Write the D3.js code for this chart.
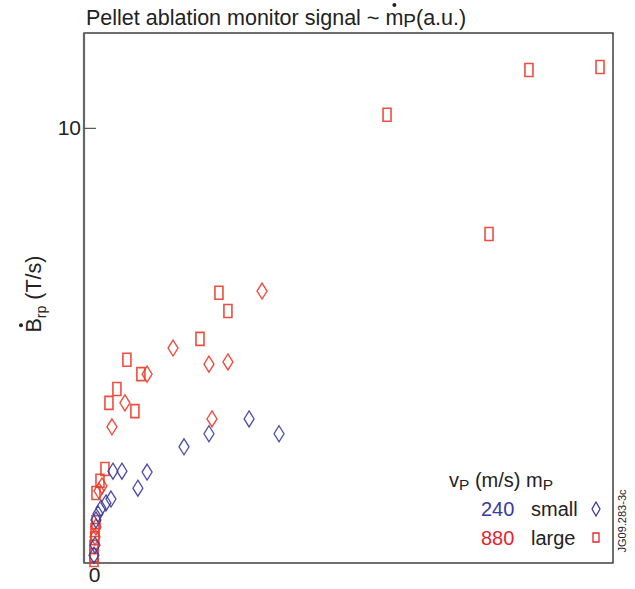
<!DOCTYPE html>
<html>
<head>
<meta charset="utf-8">
<script src="https://cdn.jsdelivr.net/npm/d3@7"></script>
<style>
  html, body { margin: 0; padding: 0; background: #fff; }
  svg { display: block; font-family: "Liberation Sans", Arial, Helvetica, sans-serif; }
</style>
</head>
<body>
<svg id="chart" width="635" height="589"></svg>
<script>
// Ablation signal (a.u.) and dB/dt (T/s) for each pellet group
const smallFastX = [7.77, 9.27, 5.76, 4.51, 2.66, 2.20, 1.40, 0.95, 0.85, 0.60, 0.35, 0.20, 0.10, 0.05, 0.00];
const smallFastY = [3.31, 2.97, 2.97, 2.67, 2.09, 1.72, 2.11, 2.11, 1.47, 1.38, 1.26, 1.13, 0.99, 0.41, 0.18];

const largeX = [14.68, 21.79, 25.35, 19.79, 6.26, 6.71, 5.31, 1.65, 2.35, 1.15, 0.75, 2.05, 0.55, 0.30, 0.10, 0.10, 0.05, 0.05, 0.00, 0.00, 0.00];
const largeY = [10.30, 11.33, 11.40, 7.56, 6.21, 5.79, 5.15, 4.67, 4.34, 4.00, 3.68, 3.49, 2.16, 1.89, 1.61, 0.94, 0.76, 0.57, 0.37, 0.18, 0.07];

const otherX = [8.42, 3.96, 2.66, 5.76, 6.71, 1.55, 0.90, 5.91, 0.40, 0.25, 0.10, 0.05];
const otherY = [6.25, 4.94, 4.34, 4.57, 4.62, 3.68, 3.13, 3.31, 1.77, 1.66, 0.83, 0.60];

const yTicks = [10];
const xTicks = [0];
const legendSpeeds = ["240", "880"];
const legendSizes = ["small", "large"];

const BLUE = "#3a3a9c";
const RED = "#ec3b2a";
const LEGEND_RED = "#e8242a";

const svg = d3.select("#chart");
const plotL = 84, plotR = 613, plotT = 33, plotB = 563;

const x = d3.scaleLinear().domain([-0.5, 26]).range([plotL, plotR]);
const y = d3.scaleLinear().domain([0, 12.18]).range([plotB, plotT]);

// frame
svg.append("rect")
  .attr("x", plotL).attr("y", plotT)
  .attr("width", plotR - plotL).attr("height", plotB - plotT)
  .attr("fill", "none").attr("stroke", "#333").attr("stroke-width", 1.4);
svg.append("line")
  .attr("x1", plotL).attr("x2", plotL).attr("y1", plotT).attr("y2", plotB)
  .attr("stroke", "#666").attr("stroke-width", 2.2);

// axes
const yAxis = svg.append("g")
  .attr("transform", `translate(${plotL},0)`)
  .call(d3.axisLeft(y).tickValues(yTicks).tickSizeInner(-12).tickSizeOuter(0).tickPadding(3).tickFormat(d3.format("d")));
yAxis.select(".domain").remove();
yAxis.selectAll("line").attr("stroke", "#555").attr("stroke-width", 1.2);
yAxis.selectAll("text").attr("font-size", 21).attr("fill", "#222").attr("font-family", "Liberation Sans, Arial, sans-serif");

const xAxis = svg.append("g")
  .attr("transform", `translate(0,${plotB})`)
  .call(d3.axisBottom(x).tickValues(xTicks).tickSize(0).tickPadding(4).tickFormat(d3.format("d")));
xAxis.select(".domain").remove();
xAxis.selectAll("text").attr("font-size", 21).attr("fill", "#222").attr("font-family", "Liberation Sans, Arial, sans-serif");

// marker shapes
const diamond = (cx, cy) => `M${cx},${cy - 8}L${cx + 5},${cy}L${cx},${cy + 8}L${cx - 5},${cy}Z`;
const rectMark = (cx, cy) => `M${cx - 4},${cy - 6.5}h8v13h-8Z`;

function drawSeries(xs, ys, shape, color, width) {
  svg.append("g").selectAll("path")
    .data(d3.zip(xs, ys))
    .join("path")
    .attr("d", d => shape(x(d[0]), y(d[1])))
    .attr("fill", "none")
    .attr("stroke", color)
    .attr("stroke-width", width)
    .attr("stroke-opacity", 0.9);
}

drawSeries(otherX, otherY, diamond, RED, 1.4);
drawSeries(largeX, largeY, rectMark, RED, 1.6);
drawSeries(smallFastX, smallFastY, diamond, BLUE, 1.3);

// title
const titlePrefix = "Pellet ablation monitor signal ~ ";
const title = svg.append("text")
  .attr("x", 86).attr("y", 25)
  .attr("font-size", 21.5).attr("fill", "#222");
title.append("tspan").text(titlePrefix);
title.append("tspan").text("m");
title.append("tspan").attr("font-size", 19).attr("dy", 2).text("P");
title.append("tspan").attr("dy", -2).text("(a.u.)");
{
  const tNode = title.node();
  const s = tNode.getStartPositionOfChar(titlePrefix.length);
  const e = tNode.getEndPositionOfChar(titlePrefix.length);
  svg.append("circle").attr("cx", (s.x + e.x) / 2).attr("cy", 5).attr("r", 2).attr("fill", "#222");
}

// y label
const yl = svg.append("g").attr("transform", "translate(41,294) rotate(-90)");
const ylt = yl.append("text").attr("text-anchor", "middle").attr("font-size", 21.5).attr("fill", "#222");
ylt.append("tspan").text("B");
ylt.append("tspan").attr("font-size", 14).attr("dy", 5).text("rp");
ylt.append("tspan").attr("dy", -5).text(" (T/s)");
{
  const s = ylt.node().getStartPositionOfChar(0);
  const e = ylt.node().getEndPositionOfChar(0);
  yl.append("circle").attr("cx", (s.x + e.x) / 2).attr("cy", -20).attr("r", 2).attr("fill", "#222");
}

// legend
const lg = svg.append("g");
const head = lg.append("text").attr("x", 449).attr("y", 487).attr("font-size", 20).attr("fill", "#222");
head.append("tspan").text("v");
head.append("tspan").attr("font-size", 15.5).attr("dy", 3).text("P");
head.append("tspan").attr("dy", -3).text(" (m/s) m");
head.append("tspan").attr("font-size", 15.5).attr("dy", 3).text("P");

const legendColors = [BLUE, LEGEND_RED];
legendSpeeds.forEach((s, i) => {
  const yy = 516 + i * 29;
  lg.append("text").attr("x", 481).attr("y", yy).attr("font-size", 20).attr("fill", legendColors[i]).text(s);
  lg.append("text").attr("x", 531).attr("y", yy).attr("font-size", 20).attr("fill", "#222").text(legendSizes[i]);
  lg.append("path")
    .attr("d", i === 0 ? `M596,${yy - 14}L600,${yy - 7}L596,${yy}L592,${yy - 7}Z` : `M593,${yy - 12}h6v9h-6Z`)
    .attr("fill", "none").attr("stroke", legendColors[i]).attr("stroke-width", 1.3);
});

// figure reference
svg.append("text")
  .attr("transform", "translate(626,521) rotate(-90)")
  .attr("text-anchor", "middle").attr("font-size", 11).attr("fill", "#222")
  .text("JG09.283-3c");
</script>
</body>
</html>
